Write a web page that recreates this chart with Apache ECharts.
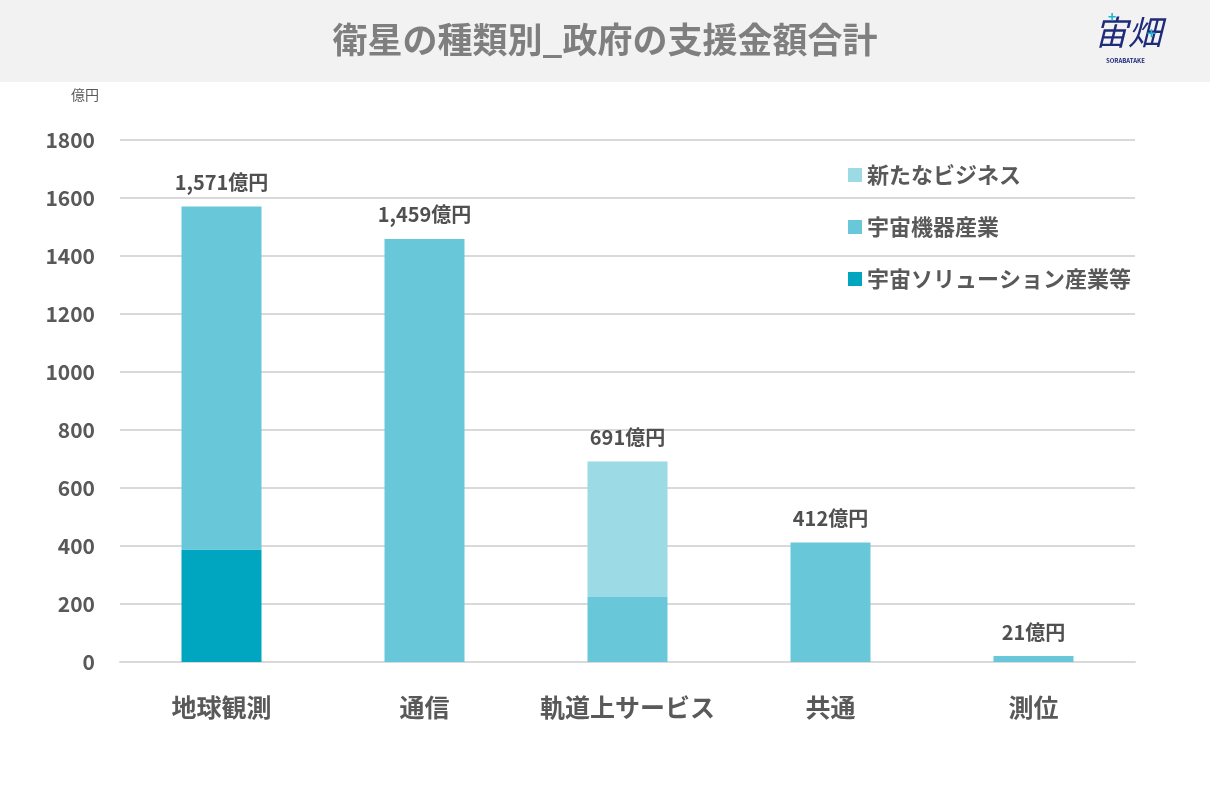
<!DOCTYPE html>
<html>
<head>
<meta charset="utf-8">
<script src="https://cdn.jsdelivr.net/npm/echarts@6/dist/echarts.min.js"></script>
<style>
  html, body { margin: 0; padding: 0; background: #fff; }
  #main { width: 1210px; height: 805px; }
</style>
</head>
<body>
<div id="main"></div>
<script>
const categories = ['地球観測', '通信', '軌道上サービス', '共通', '測位']
const solutionVals = [388, 0, 0, 0, 0]       // 宇宙ソリューション産業等
const equipmentVals = [1183, 1459, 224, 412, 21] // 宇宙機器産業
const newBizVals = [0, 0, 467, 0, 0]         // 新たなビジネス
const totals = [1571, 1459, 691, 412, 21]
const legendNames = ['新たなビジネス', '宇宙機器産業', '宇宙ソリューション産業等']

const font = '"Noto Sans CJK JP", "Noto Sans", sans-serif'
const textColor = '#595959'

const chart = echarts.init(document.getElementById('main'))

const barBase = {
  type: 'bar',
  stack: 'total',
  barWidth: 80,
  emphasis: { disabled: true }
}

chart.setOption({
  animation: false,
  textStyle: { fontFamily: font },
  graphic: [
    { type: 'rect', shape: { x: 0, y: 0, width: 1210, height: 82 }, style: { fill: '#f2f2f2' }, z: -1 },
    {
      type: 'text', left: 'center', top: 22,
      style: { text: '衛星の種類別_政府の支援金額合計', font: 'bold 35px ' + font, fill: '#7f7f7f' }
    },
    { type: 'text', left: 1094, top: 15, style: { text: '宙畑', font: 'italic 34px ' + font, fill: '#1f2a7a' } },
    { type: 'text', left: 1108, top: 10, style: { text: '+', font: 'bold 14px ' + font, fill: '#1bb3d0' } },
    { type: 'text', left: 1147, top: 26, style: { text: '+', font: 'bold 15px ' + font, fill: '#1bb3d0' } },
    { type: 'text', left: 1106, top: 58, style: { text: 'SORABATAKE', font: 'bold 6px ' + font, fill: '#1f2a7a' } },
    { type: 'text', left: 71, top: 88, style: { text: '億円', font: '14px ' + font, fill: textColor } }
  ],
  legend: {
    data: legendNames,
    orient: 'vertical',
    left: 843,
    top: 159,
    itemWidth: 14,
    itemHeight: 14,
    itemGap: 30,
    icon: 'rect',
    selectedMode: false,
    textStyle: { fontSize: 22, fontWeight: 'bold', color: textColor, fontFamily: font }
  },
  grid: { left: 120, right: 75, top: 140, bottom: 143 },
  xAxis: {
    type: 'category',
    data: categories,
    axisLine: { lineStyle: { color: '#d9d9d9', width: 2 } },
    axisTick: { show: false },
    axisLabel: { interval: 0, margin: 33, fontSize: 25, fontWeight: 'bold', color: textColor, fontFamily: font }
  },
  yAxis: {
    type: 'value',
    min: 0,
    max: 1800,
    interval: 200,
    axisLine: { show: false },
    axisTick: { show: false },
    axisLabel: {
      margin: 25, fontSize: 21, fontWeight: 'bold', color: textColor, fontFamily: font,
      formatter: v => String(v)
    },
    splitLine: { lineStyle: { color: '#d9d9d9', width: 2 } }
  },
  series: [
    Object.assign({}, barBase, { name: '宇宙ソリューション産業等', data: solutionVals, itemStyle: { color: '#00a5bf' } }),
    Object.assign({}, barBase, { name: '宇宙機器産業', data: equipmentVals, itemStyle: { color: '#68c8da' } }),
    Object.assign({}, barBase, { name: '新たなビジネス', data: newBizVals, itemStyle: { color: '#9cdae6' } }),
    {
      name: '合計',
      type: 'scatter',
      data: totals,
      symbolSize: 2,
      itemStyle: { color: 'rgba(0,0,0,0)', opacity: 1 },
      silent: true,
      z: 10,
      label: {
        show: true,
        position: 'top',
        distance: 13,
        formatter: p => p.value.toLocaleString('en-US') + '億円',
        fontSize: 20,
        fontWeight: 'bold',
        color: '#505050',
        fontFamily: font
      }
    }
  ]
})
</script>
</body>
</html>
